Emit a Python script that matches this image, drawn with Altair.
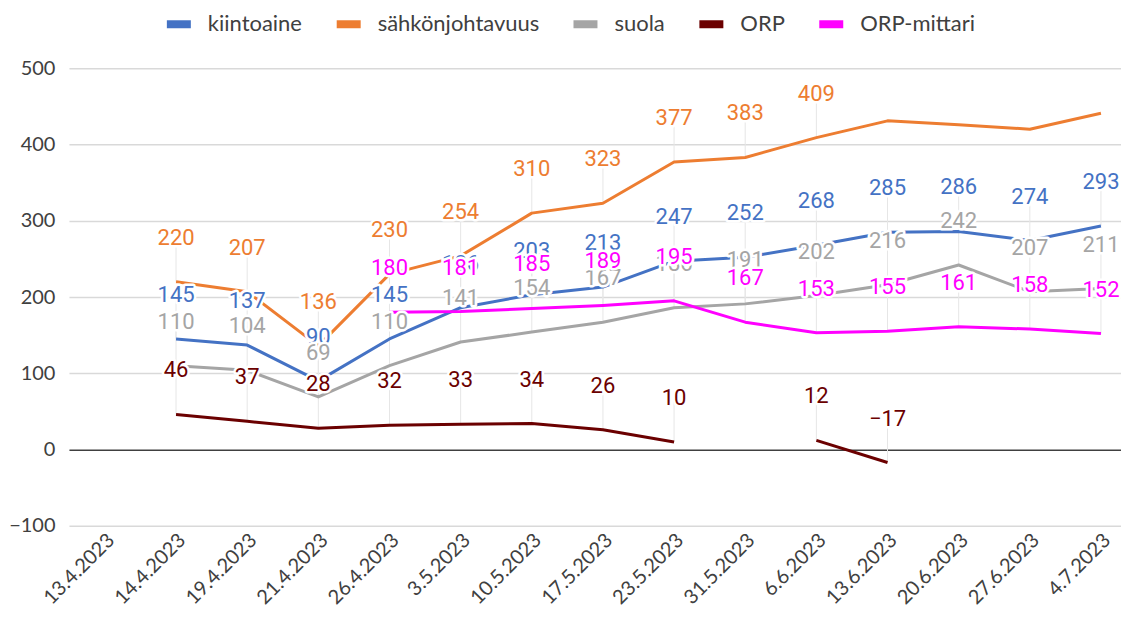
import altair as alt
import pandas as pd

dates = ["13.4.2023", "14.4.2023", "19.4.2023", "21.4.2023", "26.4.2023", "3.5.2023",
         "10.5.2023", "17.5.2023", "23.5.2023", "31.5.2023", "6.6.2023", "13.6.2023",
         "20.6.2023", "27.6.2023", "4.7.2023"]

series_names = ["kiintoaine", "sähkönjohtavuus", "suola", "ORP", "ORP-mittari"]
colors = ["#4472C4", "#ED7D31", "#A5A5A5", "#6B0000", "#FF00FF"]

kiintoaine = [None, 145, 137, 90, 145, 186, 203, 213, 247, 252, 268, 285, 286, 274, 293]
sahkonjohtavuus = [None, 220, 207, 136, 230, 254, 310, 323, 377, 383, 409, 431, 426, 420, 441]
suola = [None, 110, 104, 69, 110, 141, 154, 167, 186, 191, 202, 216, 242, 207, 211]
orp = [None, 46, 37, 28, 32, 33, 34, 26, 10, None, 12, -17, None, None, None]
orp_mittari = [None, None, None, None, 180, 181, 185, 189, 195, 167, 153, 155, 161, 158, 152]

# which points carry a data label (sähkönjohtavuus has none for its last four points)
sahko_labelled = [False, True, True, True, True, True, True, True, True, True, True,
                  False, False, False, False]

all_values = [kiintoaine, sahkonjohtavuus, suola, orp, orp_mittari]
all_labelled = [None, sahko_labelled, None, None, None]

rows = []
for s_idx, (name, vals, lab) in enumerate(zip(series_names, all_values, all_labelled)):
    seg = 0
    for i, (d, v) in enumerate(zip(dates, vals)):
        if v is None:
            seg += 1
            continue
        shown = True if lab is None else lab[i]
        rows.append({
            "date": d, "idx": i, "series": name, "value": v,
            "seg": f"{name}-{seg}", "labelled": shown,
            "lbl": str(v).replace("-", "\u2212"),
        })
df = pd.DataFrame(rows)

AXIS_FONT = "Lato"
LABEL_FONT = "Roboto"
LABEL_DY = -44

x_enc = alt.X("date:N", sort=dates,
              scale=alt.Scale(type="point", domain=dates, padding=0.3936, align=0.642),
              axis=alt.Axis(title=None, labelAngle=315, labelAlign="right",
                            labelBaseline="middle", domain=False, ticks=False, grid=False,
                            labelFont=AXIS_FONT, labelFontSize=20, labelColor="#404040",
                            labelPadding=11, labelOffset=6, labelOverlap=False))
y_enc = alt.Y("value:Q",
              scale=alt.Scale(domain=[-100, 500], nice=False, zero=False),
              axis=alt.Axis(title=None, values=[-100, 0, 100, 200, 300, 400, 500],
                            domain=False, ticks=False, labelFont=AXIS_FONT,
                            labelFontSize=20, labelColor="#404040", labelPadding=14,
                            gridWidth=1.5,
                            gridColor=alt.expr("datum.value === 0 ? '#404040' : '#d9d9d9'")))

base = alt.Chart(df)

leaders = base.transform_filter("datum.labelled").mark_rule(
    color="#e6e6e6", strokeWidth=1, y2Offset=LABEL_DY
).encode(x=x_enc, y=y_enc, y2="value:Q")

lines = base.mark_line(strokeWidth=3, strokeJoin="round").encode(
    x=x_enc, y=y_enc,
    color=alt.Color("series:N",
                    scale=alt.Scale(domain=series_names, range=colors),
                    legend=alt.Legend(title=None, orient="none", legendX=94, legendY=-60,
                                      direction="horizontal", columns=5,
                                      symbolType="stroke", symbolStrokeWidth=8,
                                      symbolSize=576, labelFont=AXIS_FONT,
                                      labelFontSize=22, labelColor="#404040",
                                      labelLimit=400,
                                      labelOffset=13, columnPadding=18, padding=0)),
    detail="seg:N",
    order=alt.Order("idx:Q"),
)

layers = [leaders, lines]
for name, col in zip(series_names, colors):
    sub = base.transform_filter(
        f"datum.series === '{name}' && datum.labelled")
    halo = sub.mark_text(font=LABEL_FONT, fontSize=22, dy=LABEL_DY, baseline="middle",
                         fill="white", stroke="white", strokeWidth=5,
                         strokeJoin="round").encode(x=x_enc, y=y_enc, text="lbl:N")
    txt = sub.mark_text(font=LABEL_FONT, fontSize=22, dy=LABEL_DY, baseline="middle",
                        color=col).encode(x=x_enc, y=y_enc, text="lbl:N")
    layers += [halo, txt]

chart = alt.layer(*layers).properties(
    width=1053, height=458,
    padding={"left": 0, "right": 0, "top": 0, "bottom": 0},
).configure_view(stroke=None)

chart.save("out.html", embed_options={"renderer": "svg", "actions": False})
